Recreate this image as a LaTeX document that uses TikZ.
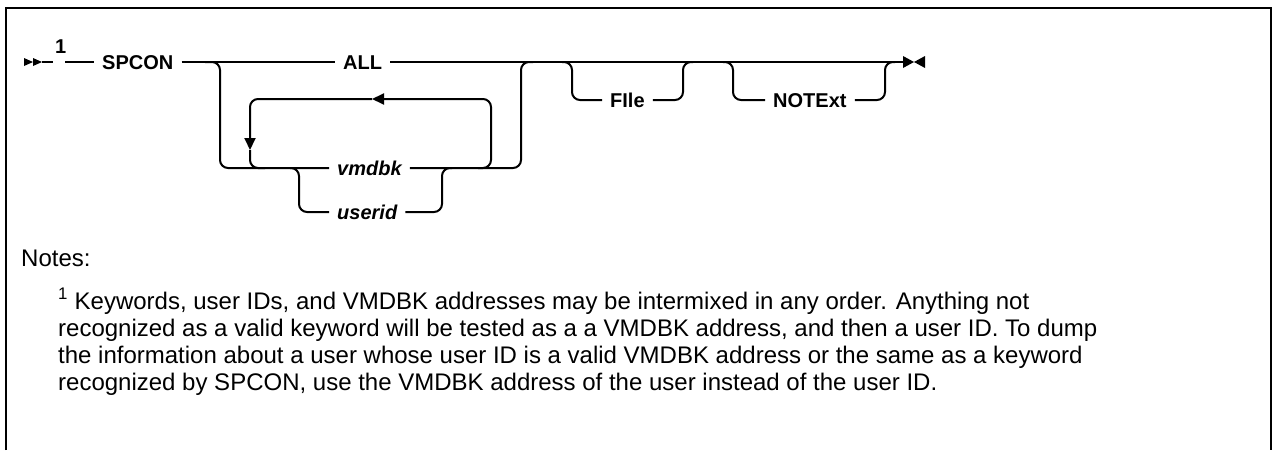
\documentclass[tikz,border=0pt]{standalone}
\usepackage{fontspec}
\setmainfont{Liberation Sans}
\usetikzlibrary{arrows.meta}
\tikzset{
  kw/.style={font=\fontsize{20}{22}\selectfont\bfseries, inner xsep=8pt, inner ysep=0pt, text height=14.4pt, text depth=0pt, anchor=west},
  var/.style={kw, font=\fontsize{20}{22}\selectfont\bfseries\itshape},
  rail/.style={line width=2pt, rounded corners=8pt},
  tipd/.style={-{Triangle[length=12pt,width=11pt]}},
  note/.style={font=\fontsize{24}{28}\selectfont, inner sep=0pt, anchor=base west},
  frame/.style={line width=2pt},
  endmark/.style={fill=black}
}
\begin{document}
\begin{tikzpicture}[x=1pt,y=-1pt]
\useasboundingbox (0,0) rectangle (1273,450);
% frame
\draw[frame] (6,450) -- (6,8) -- (1271,8) -- (1271,450);
% text nodes
\node[kw, inner sep=0pt, anchor=base west] (one) at (55,53) {1};
\node[kw] (spcon) at (94,62) {SPCON};
\node[kw] (all) at (335,62) {ALL};
\node[var] (vmdbk) at (329,168) {vmdbk};
\node[var] (userid) at (329,212) {userid};
\node[kw] (file) at (602,100) {FIle};
\node[kw] (notext) at (765,100) {NOTExt};
% coordinates
\coordinate (st) at (42,62);
\coordinate (s1) at (53,62);
\coordinate (a1) at (65,62);
\coordinate (en) at (903,62);
\coordinate (j1) at (205,62);
\coordinate (j2) at (533,62);
\coordinate (l0) at (478,168);
\coordinate (la) at (372,99);
\coordinate (lb) at (250,150);
\coordinate (l1) at (265,168);
\coordinate (u0) at (290,168);
\coordinate (u1) at (452,168);
\coordinate (f0) at (562,62);
\coordinate (f1) at (693,62);
\coordinate (n0) at (723,62);
\coordinate (n1) at (895,62);
% start and end marks
\fill[endmark] (24,58) -- (33,62) -- (24,66) -- cycle;
\fill[endmark] (33,58) -- (42,62) -- (33,66) -- cycle;
\fill[endmark] (903,56) -- (914,62) -- (903,68) -- cycle;
\fill[endmark] (925,56) -- (914,62) -- (925,68) -- cycle;
% main line
\draw[rail] (st) -- (s1);
\draw[rail] (a1) -- (spcon.west);
\draw[rail] (spcon.east) -- (all.west);
\draw[rail] (all.east) -- (en);
% vmdbk branch
\draw[rail] (j1) -- (220,62) -- (220,168) -- (vmdbk.west);
\draw[rail] (vmdbk.east) -- (521,168) -- (521,62) -- (j2);
% repeat loop
\draw[rail, tipd] (l0) -- (491,168) -- (491,99) -- (la);
\draw[rail, tipd] (la) -- (250,99) -- (lb);
\draw[rail] (lb) -- (250,168) -- (l1);
% userid branch
\draw[rail] (u0) -- (299,168) -- (299,212) -- (userid.west);
\draw[rail] (userid.east) -- (442,212) -- (442,168) -- (u1);
% FIle
\draw[rail] (f0) -- (572,62) -- (572,100) -- (file.west);
\draw[rail] (file.east) -- (683,100) -- (683,62) -- (f1);
% NOTExt
\draw[rail] (n0) -- (733,62) -- (733,100) -- (notext.west);
\draw[rail] (notext.east) -- (885,100) -- (885,62) -- (n1);
% notes
\node[note] (notes) at (21,266) {Notes:};
\node[note] (nl1) at (58,309) {\textsuperscript{1} Keywords, user IDs, and VMDBK addresses may be intermixed in any order. Anything not};
\node[note] (nl2) at (58,336) {recognized as a valid keyword will be tested as a a VMDBK address, and then a user ID. To dump};
\node[note] (nl3) at (58,363) {the information about a user whose user ID is a valid VMDBK address or the same as a keyword};
\node[note] (nl4) at (58,390) {recognized by SPCON, use the VMDBK address of the user instead of the user ID.};
\end{tikzpicture}
\end{document}
